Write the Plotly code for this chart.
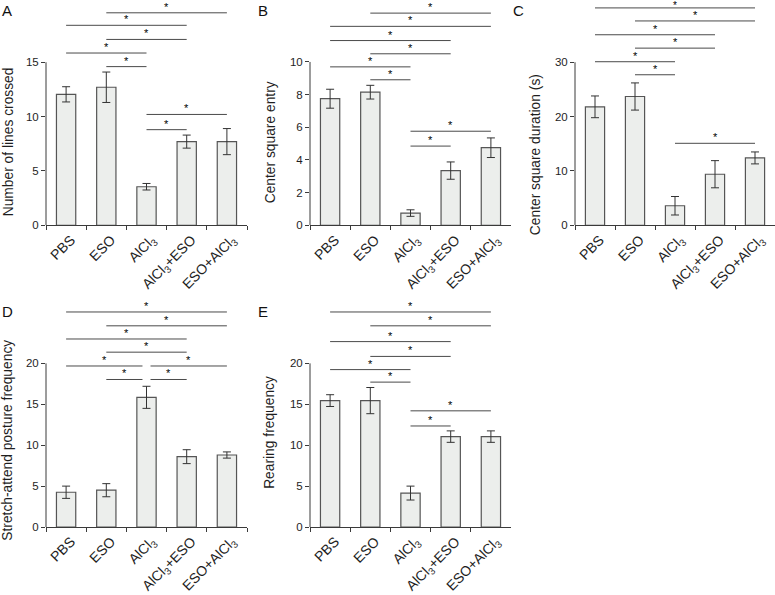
import plotly.graph_objects as go

# ---------------- data ----------------
categories = ["PBS", "ESO", "AlCl<sub>3</sub>", "AlCl<sub>3</sub>+ESO", "ESO+AlCl<sub>3</sub>"]

lines_mean = [12.05, 12.7, 3.55, 7.7, 7.7]
lines_err = [0.7, 1.4, 0.3, 0.6, 1.2]

entry_mean = [7.75, 8.15, 0.75, 3.35, 4.75]
entry_err = [0.58, 0.42, 0.2, 0.53, 0.6]

duration_mean = [21.8, 23.7, 3.6, 9.4, 12.4]
duration_err = [2.0, 2.5, 1.7, 2.5, 1.1]

stretch_mean = [4.25, 4.5, 15.85, 8.6, 8.8]
stretch_err = [0.75, 0.8, 1.35, 0.85, 0.38]

rearing_mean = [15.45, 15.45, 4.15, 11.05, 11.05]
rearing_err = [0.72, 1.6, 0.85, 0.7, 0.7]

# significance brackets: (from index, to index, level)
lines_sig = [(1, 4, 19.55), (0, 3, 18.4), (1, 3, 17.1), (0, 2, 15.85), (1, 2, 14.6),
             (2, 4, 10.2), (2, 3, 8.8)]
entry_sig = [(1, 4, 12.99), (0, 4, 12.18), (0, 3, 11.31), (1, 3, 10.5), (0, 2, 9.7),
             (1, 2, 8.91), (2, 4, 5.76), (2, 3, 4.85)]
duration_sig = [(0, 4, 40.0), (1, 4, 37.6), (0, 3, 35.06), (1, 3, 32.6), (0, 2, 30.1),
                (1, 2, 27.7), (2, 4, 15.09)]
stretch_sig = [(0, 4, 26.28), (1, 4, 24.59), (0, 3, 22.98), (1, 3, 21.37), (0, 2, 19.68),
               (2, 4, 19.68), (1, 2, 18.03), (2, 3, 18.03)]
rearing_sig = [(0, 4, 26.28), (1, 4, 24.59), (0, 3, 22.66), (1, 3, 20.85), (0, 2, 19.24),
               (1, 2, 17.71), (2, 4, 14.2), (2, 3, 12.35)]

y_titles = ["Number of lines crossed", "Center square entry", "Center square duration (s)",
            "Stretch-attend posture frequency", "Rearing frequency"]
y_ticks = [[0, 5, 10, 15], [0, 2, 4, 6, 8, 10], [0, 10, 20, 30], [0, 5, 10, 15, 20], [0, 5, 10, 15, 20]]
panel_letters = ["A", "B", "C", "D", "E"]

# ---------------- layout geometry (pixels) ----------------
W, H = 775, 595
FONT = "Liberation Sans, Arial, sans-serif"
GRAY = "#3a3a3a"
TXT = "#1e1e1e"

panels = [
    dict(mean=lines_mean, err=lines_err, sig=lines_sig, x0=46, x1=247, y0px=228, ytoppx=63, ytopval=15, domtop=0),
    dict(mean=entry_mean, err=entry_err, sig=entry_sig, x0=310, x1=511, y0px=228, ytoppx=62.7, ytopval=10, domtop=0),
    dict(mean=duration_mean, err=duration_err, sig=duration_sig, x0=575, x1=775, y0px=228, ytoppx=63, ytopval=30, domtop=0),
    dict(mean=stretch_mean, err=stretch_err, sig=stretch_sig, x0=46, x1=247, y0px=533.3, ytoppx=367.7, ytopval=20, domtop=298),
    dict(mean=rearing_mean, err=rearing_err, sig=rearing_sig, x0=310, x1=511, y0px=533.3, ytoppx=367.7, ytopval=20, domtop=298),
]
letter_pos = [(0, 0), (256, 0), (511, 0), (0, 305), (256, 305)]
title_center = [(8, 144), (270, 144), (535, 157), (8, 446), (270, 438)]

fig = go.Figure()
layout = {}
shapes = []
annotations = []

for i, p in enumerate(panels):
    n = i + 1
    xa = "x" if n == 1 else f"x{n}"
    ya = "y" if n == 1 else f"y{n}"
    xkey = "xaxis" if n == 1 else f"xaxis{n}"
    ykey = "yaxis" if n == 1 else f"yaxis{n}"
    ppu = (p["y0px"] - p["ytoppx"]) / p["ytopval"]
    ymax = (p["y0px"] - p["domtop"]) / ppu

    fig.add_trace(go.Bar(
        x=categories, y=p["mean"], xaxis=xa, yaxis=ya, width=0.48,
        marker=dict(color="#eceeec", line=dict(color="#555555", width=1.2)),
        error_y=dict(type="data", array=p["err"], visible=True, color="#333333", thickness=1, width=4),
        showlegend=False, hoverinfo="skip",
    ))

    layout[xkey] = dict(
        domain=[p["x0"] / W, p["x1"] / W], anchor=ya, type="category",
        categoryorder="array", categoryarray=categories, range=[-0.5, 4.5],
        showline=True, linecolor=GRAY, linewidth=1, ticks="outside", ticklen=4,
        tickcolor=GRAY, tickson="boundaries", tickangle=-45, showgrid=False,
        ticklabelshift=5,
        tickfont=dict(family=FONT, size=14, color=TXT), fixedrange=True,
    )
    layout[ykey] = dict(
        domain=[1 - p["y0px"] / H, 1 - p["domtop"] / H], anchor=xa,
        range=[0, ymax], tickvals=y_ticks[i], showline=False, zeroline=False,
        showgrid=False, ticks="outside", ticklen=4, tickcolor=GRAY,
        tickfont=dict(family=FONT, size=11.5, color=TXT), fixedrange=True,
    )
    # y axis line only up to the top tick
    shapes.append(dict(type="line", xref=f"{xa} domain", yref=ya, x0=0, x1=0,
                       y0=0, y1=y_ticks[i][-1], line=dict(color=GRAY, width=1)))

    # significance brackets
    top_lvl = max(s[2] for s in p["sig"])
    for (a, b, lvl) in p["sig"]:
        xa0, xb0 = a, b
        if i == 3 and lvl in (19.68, 18.03):
            if b == 2:
                xb0 = b - 0.1
            if a == 2:
                xa0 = a + 0.1
        shapes.append(dict(type="line", xref=xa, yref=ya, x0=xa0, x1=xb0, y0=lvl, y1=lvl,
                           line=dict(color="#4a4a4a", width=1)))
        ysh = 6
        fsz = 11
        if i == 2 and lvl == top_lvl:
            ysh = 2
            fsz = 10
        annotations.append(dict(xref=xa, yref=ya, x=(xa0 + xb0) / 2, y=lvl, text="*",
                                showarrow=False, yanchor="middle", yshift=ysh,
                                font=dict(family=FONT, size=fsz, color="#000000")))

    # y title
    cx, cy = title_center[i]
    annotations.append(dict(xref="paper", yref="paper", x=cx / W, y=1 - cy / H,
                            text=y_titles[i], textangle=-90, showarrow=False,
                            xanchor="center", yanchor="middle",
                            font=dict(family=FONT, size=13.8, color=TXT)))
    # panel letter
    lx, ly = letter_pos[i]
    annotations.append(dict(xref="paper", yref="paper", x=lx / W, y=1 - ly / H,
                            text=panel_letters[i], showarrow=False,
                            xanchor="left", yanchor="top",
                            font=dict(family=FONT, size=15, color="#111111")))

fig.update_layout(
    width=W, height=H, margin=dict(l=0, r=0, t=0, b=0),
    paper_bgcolor="white", plot_bgcolor="rgba(0,0,0,0)",
    shapes=shapes, annotations=annotations, bargap=0.5,
    **layout,
)

fig.write_html("out.html", config={"displayModeBar": False},
               post_script="document.body.style.margin='0px';")
